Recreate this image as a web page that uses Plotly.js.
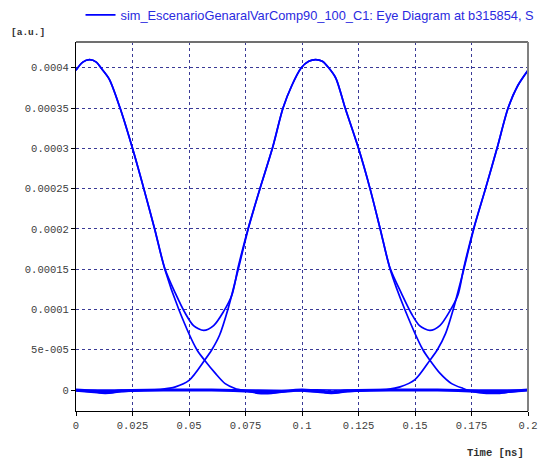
<!DOCTYPE html>
<html>
<head>
<meta charset="utf-8">
<script src="https://cdn.plot.ly/plotly-3.0.1.min.js"></script>
<style>
  html, body { margin: 0; padding: 0; background: #ffffff; }
  #chart { width: 550px; height: 461px; }
</style>
</head>
<body>
<div id="chart"></div>
<script>
// ---- Data (time in ns, amplitude in a.u.) ----
const seriesName = "sim_EscenarioGenaralVarComp90_100_C1: Eye Diagram at b315854, S";

// Sweep "1 0 ..": falling from the first peak
const fallX = [0, 0.003, 0.006, 0.009, 0.011, 0.0147, 0.0195, 0.025, 0.030, 0.0348, 0.0393, 0.0455, 0.0535, 0.0569, 0.0616, 0.066, 0.0704, 0.075, 0.0806, 0.0865, 0.094, 0.1, 0.12, 0.15, 0.2];
const fallY = [0.000397, 0.000407, 0.00041, 0.000407, 0.0004, 0.000386, 0.00035, 0.0003, 0.00025, 0.0002, 0.00015, 0.0001, 0.00005, 0.000037, 0.000021, 0.000008, 0.000002, -0.000001, -0.000004, -0.000004, -0.000001, 0, 0, 0, 0];

// Sweep "0 1 0": pulse peaking near 0.106 ns
const pulseX = [0, 0.008, 0.013, 0.02, 0.03, 0.038, 0.044, 0.05, 0.0569, 0.0601, 0.0635, 0.0672, 0.0718, 0.0762, 0.0814, 0.0869, 0.0916, 0.0955, 0.0997, 0.103, 0.106, 0.109, 0.1118, 0.115, 0.1191, 0.125, 0.1301, 0.1346, 0.139, 0.1455, 0.1535, 0.1566, 0.161, 0.1662, 0.1713, 0.1757, 0.1816, 0.1875, 0.1934, 0.2];
const pulseY = [-0.000001, -0.000003, -0.000004, -0.000002, 0, 0.000001, 0.000004, 0.000012, 0.000037, 0.00005, 0.000068, 0.0001, 0.00015, 0.0002, 0.00025, 0.0003, 0.00035, 0.000378, 0.0004, 0.000408, 0.00041, 0.000408, 0.0004, 0.000387, 0.00035, 0.0003, 0.00025, 0.0002, 0.00015, 0.0001, 0.00005, 0.000037, 0.000021, 0.000008, 0.000002, -0.000002, -0.000004, -0.000004, -0.000002, 0];

// Sweep ".. 0 1": rising toward the right edge
const riseX = [0, 0.02, 0.05, 0.08, 0.1, 0.108, 0.113, 0.12, 0.13, 0.138, 0.1434, 0.15, 0.1566, 0.1599, 0.1635, 0.1669, 0.1716, 0.176, 0.1812, 0.1863, 0.1912, 0.1955, 0.2];
const riseY = [0, 0, 0, 0, -0.000001, -0.000003, -0.000004, -0.000002, 0, 0.000001, 0.000004, 0.000013, 0.000037, 0.00005, 0.00007, 0.0001, 0.00015, 0.0002, 0.00025, 0.0003, 0.00035, 0.000378, 0.000397];

// Sweep "1 1 1": upper curve with the two shallow dips
const highX = [0, 0.003, 0.006, 0.009, 0.011, 0.0147, 0.0195, 0.025, 0.030, 0.0348, 0.0393, 0.044, 0.0484, 0.052, 0.0565, 0.0609, 0.0652, 0.069, 0.0718, 0.0762, 0.0814, 0.0869, 0.0916, 0.0955, 0.0997, 0.103, 0.106, 0.109, 0.1118, 0.115, 0.1191, 0.125, 0.1301, 0.1346, 0.139, 0.144, 0.1484, 0.152, 0.1566, 0.161, 0.1652, 0.169, 0.1716, 0.176, 0.1812, 0.1863, 0.1912, 0.1955, 0.2];
const highY = [0.000397, 0.000407, 0.00041, 0.000407, 0.0004, 0.000386, 0.00035, 0.0003, 0.00025, 0.0002, 0.000151, 0.00012, 0.000095, 0.00008, 0.000074, 0.00008, 0.000097, 0.000118, 0.000153, 0.000201, 0.00025, 0.0003, 0.00035, 0.000378, 0.0004, 0.000408, 0.00041, 0.000408, 0.0004, 0.000387, 0.00035, 0.0003, 0.00025, 0.0002, 0.000151, 0.00012, 0.000095, 0.00008, 0.000074, 0.00008, 0.000097, 0.000118, 0.000152, 0.000201, 0.00025, 0.0003, 0.00035, 0.000378, 0.000397];

// Sweep "0 0 0": baseline with small ringing
const lowX = [0, 0.01, 0.013, 0.02, 0.04, 0.06, 0.08, 0.085, 0.09, 0.1, 0.11, 0.113, 0.12, 0.14, 0.16, 0.18, 0.186, 0.19, 0.2];
const lowY = [0, -0.000002, -0.000003, -0.000001, 0, 0, -0.000002, -0.000003, -0.000002, 0, -0.000002, -0.000003, -0.000001, 0, 0, -0.000002, -0.000003, -0.000002, 0];

// Axis ticks
const xTickVals = [0, 0.025, 0.05, 0.075, 0.1, 0.125, 0.15, 0.175, 0.2];
const xTickText = ["0", "0.025", "0.05", "0.075", "0.1", "0.125", "0.15", "0.175", "0.2"];
const yTickVals = [0, 0.00005, 0.0001, 0.00015, 0.0002, 0.00025, 0.0003, 0.00035, 0.0004];
const yTickText = ["0", "5e-005", "0.0001", "0.00015", "0.0002", "0.00025", "0.0003", "0.00035", "0.0004"];

// ---- Build one trace per group of sweeps (null breaks between sweeps) ----
function joinSweeps(list) {
  const xs = [], ys = [];
  list.forEach(function (s, i) {
    if (i > 0) { xs.push(null); ys.push(null); }
    for (let k = 0; k < s[0].length; k++) { xs.push(s[0][k]); ys.push(s[1][k]); }
  });
  return [xs, ys];
}
const main = joinSweeps([[fallX, fallY], [pulseX, pulseY], [riseX, riseY], [highX, highY]]);
const base = joinSweeps([[lowX, lowY]]);

const blue = "#0000ff";
const traces = [
  {
    x: main[0], y: main[1], type: "scatter", mode: "lines",
    name: seriesName, legendgroup: "eye",
    line: { color: blue, width: 1.7, shape: "spline", smoothing: 0.8 }, connectgaps: false, hoverinfo: "x+y"
  },
  {
    x: base[0], y: base[1], type: "scatter", mode: "lines",
    name: seriesName, legendgroup: "eye", showlegend: false,
    line: { color: blue, width: 3, shape: "spline", smoothing: 0.8 }, hoverinfo: "x+y"
  }
];

const tickFont = { family: "Liberation Mono, DejaVu Sans Mono, monospace", size: 10.5, color: "#404040" };
const gridCol = "#3a3a96";

const layout = {
  width: 550, height: 461,
  margin: { l: 75.5, r: 22, t: 42, b: 50, autoexpand: false },
  paper_bgcolor: "#ffffff", plot_bgcolor: "#ffffff",
  showlegend: true,
  legend: {
    orientation: "h", x: 0.01, xanchor: "left", y: 1.073, yanchor: "middle",
    font: { family: "Liberation Sans, Arial, sans-serif", size: 12.8, color: "#2a2ae0" },
    bgcolor: "rgba(0,0,0,0)", borderwidth: 0
  },
  xaxis: {
    range: [0, 0.2], tickvals: xTickVals, ticktext: xTickText,
    ticks: "outside", ticklen: 4, tickcolor: "#000000", tickfont: tickFont,
    showline: true, linecolor: "#000000", linewidth: 1,
    showgrid: true, gridcolor: gridCol, gridwidth: 1, griddash: "3px,3px",
    zeroline: false, fixedrange: true
  },
  yaxis: {
    range: [-0.000026, 0.000432], tickvals: yTickVals, ticktext: yTickText,
    ticks: "outside", ticklen: 4, tickcolor: "#000000", tickfont: tickFont,
    showline: true, linecolor: "#000000", linewidth: 1,
    showgrid: true, gridcolor: gridCol, gridwidth: 1, griddash: "3px,3px",
    zeroline: false, fixedrange: true
  },
  shapes: [
    { type: "line", xref: "paper", yref: "paper", x0: 0, x1: 1, y0: 1, y1: 1, line: { color: "#707070", width: 2 } },
    { type: "line", xref: "paper", yref: "paper", x0: 1, x1: 1, y0: 0, y1: 1, line: { color: "#808080", width: 2 } }
  ],
  annotations: [
    { text: "[a.u.]", xref: "paper", yref: "paper", x: -0.1475, y: 1.027, xanchor: "left", yanchor: "middle",
      showarrow: false, font: { family: "Liberation Mono, DejaVu Sans Mono, monospace", size: 9.5, color: "#303030", weight: "bold" } },
    { text: "Time [ns]", xref: "paper", yref: "paper", x: 0.9956, y: -0.1138, xanchor: "right", yanchor: "middle",
      showarrow: false, font: { family: "Liberation Mono, DejaVu Sans Mono, monospace", size: 10.5, color: "#303030", weight: "bold" } }
  ]
};

Plotly.newPlot("chart", traces, layout, { displayModeBar: false, staticPlot: false });
</script>
</body>
</html>
